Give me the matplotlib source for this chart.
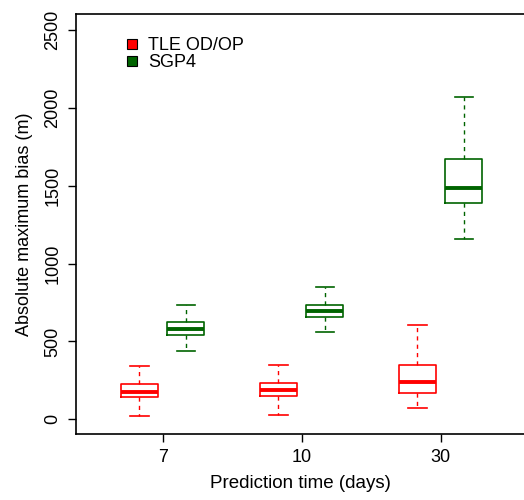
import matplotlib
matplotlib.use("Agg")
import matplotlib.pyplot as plt
from matplotlib.lines import Line2D

# valores (m)
dias = ["7", "10", "30"]
series = ["TLE OD/OP", "SGP4"]
colores = ["#FF0000", "#006400"]

tle_lo = [21, 26, 75]
tle_q1 = [143, 148, 167]
tle_med = [177, 186, 238]
tle_q3 = [227, 235, 347]
tle_hi = [342, 347, 606]

sgp_lo = [439, 563, 1160]
sgp_q1 = [541, 657, 1387]
sgp_med = [580, 694, 1486]
sgp_q3 = [623, 734, 1670]
sgp_hi = [736, 848, 2068]

plt.rcParams["font.family"] = ["Liberation Sans", "DejaVu Sans"]

fig = plt.figure(figsize=(5.24, 5.0), dpi=100)
ax = fig.add_axes([76 / 524, 1 - 434 / 500, 1 - 76 / 524, (434 - 14) / 500])

grupos = [
    (tle_lo, tle_q1, tle_med, tle_q3, tle_hi, colores[0], [1, 4, 7]),
    (sgp_lo, sgp_q1, sgp_med, sgp_q3, sgp_hi, colores[1], [2, 5, 8]),
]
for lo, q1, med, q3, hi, col, pos in grupos:
    stats = [dict(whislo=a, q1=b, med=c, q3=d, whishi=e, fliers=[])
             for a, b, c, d, e in zip(lo, q1, med, q3, hi)]
    ax.bxp(stats, positions=pos, widths=0.8, showfliers=False,
           boxprops=dict(color=col, lw=1.2),
           medianprops=dict(color=col, lw=2.8, solid_capstyle="butt"),
           whiskerprops=dict(color=col, lw=1.0, linestyle=(0, (3, 3))),
           capprops=dict(color=col, lw=1.2),
           capwidths=0.4)

ax.set_xlim(-0.37, 9.3)
ax.set_ylim(-95, 2603)
ax.set_xticks([1.5, 4.5, 7.5])
ax.set_xticklabels(dias)
ax.set_yticks([0, 500, 1000, 1500, 2000, 2500])
ax.set_yticklabels(["0", "500", "1000", "1500", "2000", "2500"],
                   rotation=90, va="center")
ax.tick_params(direction="out", length=5.5, width=1.0, labelsize=13, pad=5)
ax.spines["right"].set_visible(False)
for s in ["left", "bottom", "top"]:
    ax.spines[s].set_linewidth(1.2)

ax.set_xlabel("Prediction time (days)", fontsize=13.5, labelpad=7)
ax.set_ylabel("Absolute maximum bias (m)", fontsize=13, labelpad=8)

handles = [Line2D([], [], marker="s", linestyle="none", markersize=7,
                  markerfacecolor=c, markeredgecolor="black", markeredgewidth=0.8)
           for c in colores]
ax.legend(handles, series, loc="upper left", bbox_to_anchor=(0.085, 0.97),
          frameon=False, fontsize=13, handlelength=0.8, handletextpad=0.5,
          labelspacing=0.0, borderaxespad=0.2)

fig.savefig("out.png", dpi=100)
